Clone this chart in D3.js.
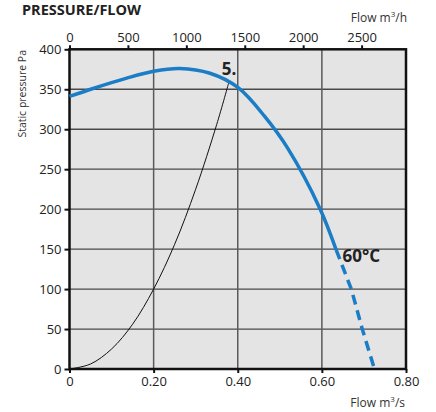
<!DOCTYPE html>
<html><head><meta charset="utf-8">
<script src="https://cdn.jsdelivr.net/npm/d3@7"></script>
<style>
body{margin:0;background:#fff;}
svg{display:block;font-family:"Open Sans",sans-serif;}
</style></head>
<body><svg id="c" width="436" height="412"></svg>
<script>
// Data
const xTicks = [0, 0.2, 0.4, 0.6, 0.8];
const xTickLabels = ["0", "0.20", "0.40", "0.60", "0.80"];
const yTicks = [0, 50, 100, 150, 200, 250, 300, 350, 400];
const topTicks = [0, 500, 1000, 1500, 2000, 2500];
const fanFlow = [0, 0.056, 0.136, 0.20, 0.262, 0.334, 0.401, 0.464, 0.519, 0.596, 0.634];
const fanPressure = [341, 351, 364, 372.5, 376, 370, 352, 316, 276, 200, 149];
const fanFlowDashed = [0.634, 0.67, 0.696, 0.725];
const fanPressureDashed = [149, 100, 50, 0];
const sysFlow = [0, 0.05, 0.10, 0.15, 0.20, 0.25, 0.30, 0.35, 0.379];
const sysPressure = [0, 6.25, 25, 56, 100, 156, 225, 306, 359];
const labels = [{t:"5.", q:0.362, p:367.5}, {t:"60°C", q:0.649, p:134}];

const svg = d3.select("#c");
const L = 69.5, R = 406, T = 49.3, B = 369;
const x = d3.scaleLinear().domain([0, 0.8]).range([L, R]);
const xTop = d3.scaleLinear().domain([0, 2880]).range([L, R]);
const y = d3.scaleLinear().domain([0, 400]).range([B, T]);

svg.append("rect").attr("x", L).attr("y", T).attr("width", R - L).attr("height", B - T).attr("fill", "#e4e4e4");

// grid
svg.append("g").selectAll("line").data(yTicks.filter(d => d > 0 && d < 400)).join("line")
  .attr("x1", L).attr("x2", R).attr("y1", d => y(d)).attr("y2", d => y(d))
  .attr("stroke", "#4a4a4a").attr("stroke-width", 1.3);
svg.append("g").selectAll("line").data(xTicks.filter(d => d > 0 && d < 0.8)).join("line")
  .attr("y1", T).attr("y2", B).attr("x1", d => x(d)).attr("x2", d => x(d))
  .attr("stroke", "#5a5a5a").attr("stroke-width", 1.5);

// axes
const fs = "13px";
const gy = svg.append("g").attr("transform", `translate(${L},0)`)
  .call(d3.axisLeft(y).tickValues(yTicks).tickSize(5).tickPadding(3).tickFormat(d3.format("d")));
const gx = svg.append("g").attr("transform", `translate(0,${B})`)
  .call(d3.axisBottom(x).tickValues(xTicks).tickSize(4).tickPadding(4).tickFormat((d, i) => xTickLabels[i]));
const gt = svg.append("g").attr("transform", `translate(0,${T})`)
  .call(d3.axisTop(xTop).tickValues(topTicks).tickSize(4).tickPadding(3).tickFormat(d3.format("d")));
[gy, gx, gt].forEach(g => {
  g.select(".domain").remove();
  g.selectAll(".tick line").attr("stroke", "#111").attr("stroke-width", 2);
  g.selectAll(".tick text").attr("fill", "#222").style("font-size", fs).style("font-family", "'Open Sans',sans-serif");
});

// frame
svg.append("rect").attr("x", L).attr("y", T).attr("width", R - L).attr("height", B - T)
  .attr("fill", "none").attr("stroke", "#111").attr("stroke-width", 2.5);

// system curve
const line = d3.line().x(d => x(d[0])).y(d => y(d[1])).curve(d3.curveCatmullRom.alpha(0.5));
svg.append("path").datum(sysFlow.map((q, i) => [q, sysPressure[i]]))
  .attr("d", line).attr("fill", "none").attr("stroke", "#111").attr("stroke-width", 1);

// fan curve
const blue = "#1a7dc5";
svg.append("path").datum(fanFlow.map((q, i) => [q, fanPressure[i]]))
  .attr("d", line).attr("fill", "none").attr("stroke", blue).attr("stroke-width", 3.5);
svg.append("path").datum(fanFlowDashed.map((q, i) => [q, fanPressureDashed[i]]))
  .attr("d", d3.line().x(d => x(d[0])).y(d => y(d[1]))).attr("fill", "none")
  .attr("stroke", blue).attr("stroke-width", 3.5).attr("stroke-dasharray", "10,6");

// curve labels
svg.append("g").selectAll("text").data(labels).join("text")
  .attr("x", d => x(d.q)).attr("y", d => y(d.p)).text(d => d.t)
  .attr("fill", "#222").style("font-weight", "bold").style("font-size", "17px");

// titles
svg.append("text").attr("x", 22).attr("y", 15).text("PRESSURE/FLOW")
  .attr("fill", "#222").style("font-weight", "bold").style("font-size", "14.5px");
const tm = svg.append("text").attr("x", 407).attr("y", 22).attr("text-anchor", "end")
  .attr("fill", "#333").style("font-size", "12px");
tm.append("tspan").text("Flow m");
tm.append("tspan").text("3").attr("dy", -5).style("font-size", "8px");
tm.append("tspan").text("/h").attr("dy", 5);
const bm = svg.append("text").attr("x", 405).attr("y", 407).attr("text-anchor", "end")
  .attr("fill", "#333").style("font-size", "12px");
bm.append("tspan").text("Flow m");
bm.append("tspan").text("3").attr("dy", -5).style("font-size", "8px");
bm.append("tspan").text("/s").attr("dy", 5);
svg.append("text").attr("transform", "translate(26,50) rotate(-90)").attr("text-anchor", "end")
  .text("Static pressure Pa").attr("fill", "#333").style("font-size", "10.5px");
</script></body></html>
